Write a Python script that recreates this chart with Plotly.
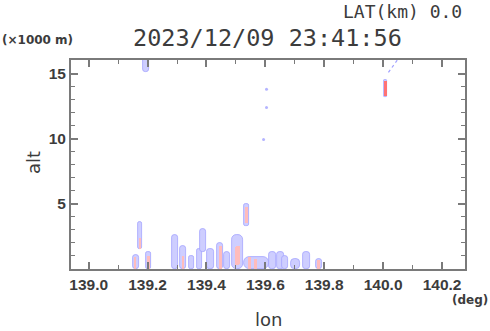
import plotly.graph_objects as go

# ---- data ----
# blue (approaching) echo cells: longitude, bottom alt, top alt, width (deg)
blue_lon = [139.175, 139.160, 139.203, 139.294, 139.321, 139.349, 139.376, 139.389,
            139.413, 139.447, 139.471, 139.505, 139.536, 139.570, 139.624, 139.651,
            139.668, 139.702, 139.740, 139.781, 139.195, 140.008]
blue_bot = [1.5, 0.0, 0.0, 0.0, 0.0, 0.0, 0.0, 1.3, 0.0, 0.0, 0.0, 0.0, 3.3, 0.0,
            0.0, 0.0, 0.0, 0.0, 0.0, 0.0, 15.1, 13.2]
blue_top = [3.6, 1.1, 1.3, 2.6, 1.8, 1.0, 1.5, 3.1, 1.55, 2.0, 1.3, 2.6, 5.0, 0.9,
            1.3, 1.3, 1.0, 0.8, 1.3, 0.8, 16.3, 14.5]
blue_w = [0.015, 0.022, 0.020, 0.020, 0.020, 0.018, 0.018, 0.020, 0.022, 0.020, 0.020,
          0.035, 0.014, 0.085, 0.025, 0.025, 0.020, 0.030, 0.025, 0.020, 0.020, 0.013]

# red (receding) echo cells
red_lon = [139.175, 139.158, 139.203, 139.321, 139.447, 139.505, 139.536, 139.547,
           139.566, 139.781]
red_bot = [1.5, 0.0, 0.0, 0.0, 0.0, 0.3, 3.5, 0.0, 0.0, 0.0]
red_top = [2.4, 0.9, 1.0, 1.0, 1.8, 1.8, 4.8, 0.9, 0.8, 0.7]
red_w = [0.008, 0.008, 0.010, 0.008, 0.012, 0.015, 0.008, 0.010, 0.008, 0.008]

# strong red core aloft
core_lon = [140.008]
core_bot = [13.3]
core_top = [14.4]
core_w = [0.009]

# faint isolated echoes
dot_lon = [139.604, 139.604, 139.594]
dot_alt = [13.8, 12.4, 9.95]
streak_lon = [140.018, 140.050]
streak_alt = [15.1, 16.1]

x_ticks = [139.0, 139.2, 139.4, 139.6, 139.8, 140.0, 140.2]
x_labels = ["139.0", "139.2", "139.4", "139.6", "139.8", "140.0", "140.2"]
y_ticks = [5, 10, 15]

title_text = "2023/12/09 23:41:56"
lat_text = "LAT(km) 0.0"

TXT = "#3c3c3c"
AX = "#7a7a7a"
W, H = 490, 331
ML, MR, MT, MB = 71, 25, 60, 62

fig = go.Figure()


def cells(lon, bot, top, w, fill, line, lw):
    fig.add_trace(go.Bar(
        x=lon, base=bot, y=[t - b for t, b in zip(top, bot)], width=w,
        marker=dict(color=fill, line=dict(color=line, width=lw), cornerradius="45%"),
        hoverinfo="skip", showlegend=False))


cells(blue_lon, blue_bot, blue_top, blue_w, "rgb(206,206,255)", "rgb(165,165,255)", 0.8)
cells(red_lon, red_bot, red_top, red_w, "rgb(255,188,188)", "rgb(255,188,188)", 0)
cells(core_lon, core_bot, core_top, core_w, "rgb(255,115,115)", "rgb(255,115,115)", 0)

fig.add_trace(go.Scatter(x=dot_lon, y=dot_alt, mode="markers",
                         marker=dict(size=3, color="rgb(180,180,255)"),
                         hoverinfo="skip", showlegend=False))
fig.add_trace(go.Scatter(x=streak_lon, y=streak_alt, mode="lines",
                         line=dict(color="rgb(160,160,255)", width=1.2, dash="dot"),
                         hoverinfo="skip", showlegend=False))

axis_common = dict(showgrid=False, zeroline=False, showline=True, linecolor=AX, linewidth=2,
                   mirror="allticks", ticks="inside", tickcolor=AX, tickwidth=1.5, ticklen=7,
                   tickfont=dict(family="Liberation Sans", size=15.5, color=TXT, weight="bold"))

fig.update_layout(
    width=W, height=H,
    margin=dict(l=ML, r=MR, t=MT, b=MB),
    paper_bgcolor="white", plot_bgcolor="white",
    barmode="overlay", bargap=0,
    xaxis=dict(range=[138.94, 140.278], tickvals=x_ticks, ticktext=x_labels,
               minor=dict(ticks="inside", dtick=0.1, tick0=139.0, ticklen=4,
                          tickcolor=AX, tickwidth=1.2),
               **axis_common),
    yaxis=dict(range=[0, 16.05], tickvals=y_ticks,
               minor=dict(ticks="inside", dtick=1, tick0=0, ticklen=4,
                          tickcolor=AX, tickwidth=1.2),
               **axis_common),
)


def px_ann(text, px, py, xanchor, font, angle=0):
    f = dict(family="DejaVu Sans", color=TXT)
    f.update(font)
    fig.add_annotation(text=text, xref="paper", yref="paper", showarrow=False,
                       x=(px - ML) / (W - ML - MR), y=((H - py) - MB) / (H - MT - MB),
                       xanchor=xanchor, yanchor="middle", font=f, textangle=angle)


px_ann(lat_text, 464, 12, "right", dict(size=18, family="DejaVu Sans Mono"))
px_ann(title_text, 131, 38, "left", dict(size=23.5, family="DejaVu Sans Mono"))
px_ann("(×1000 m)", 0, 40, "left", dict(size=12, weight="bold"))
px_ann("(deg)", 490, 300, "right", dict(size=12, weight="bold"))
px_ann("lon", 268, 319, "center", dict(size=18))
px_ann("alt", 33, 163, "center", dict(size=18), angle=-90)

fig.write_html("out.html")
